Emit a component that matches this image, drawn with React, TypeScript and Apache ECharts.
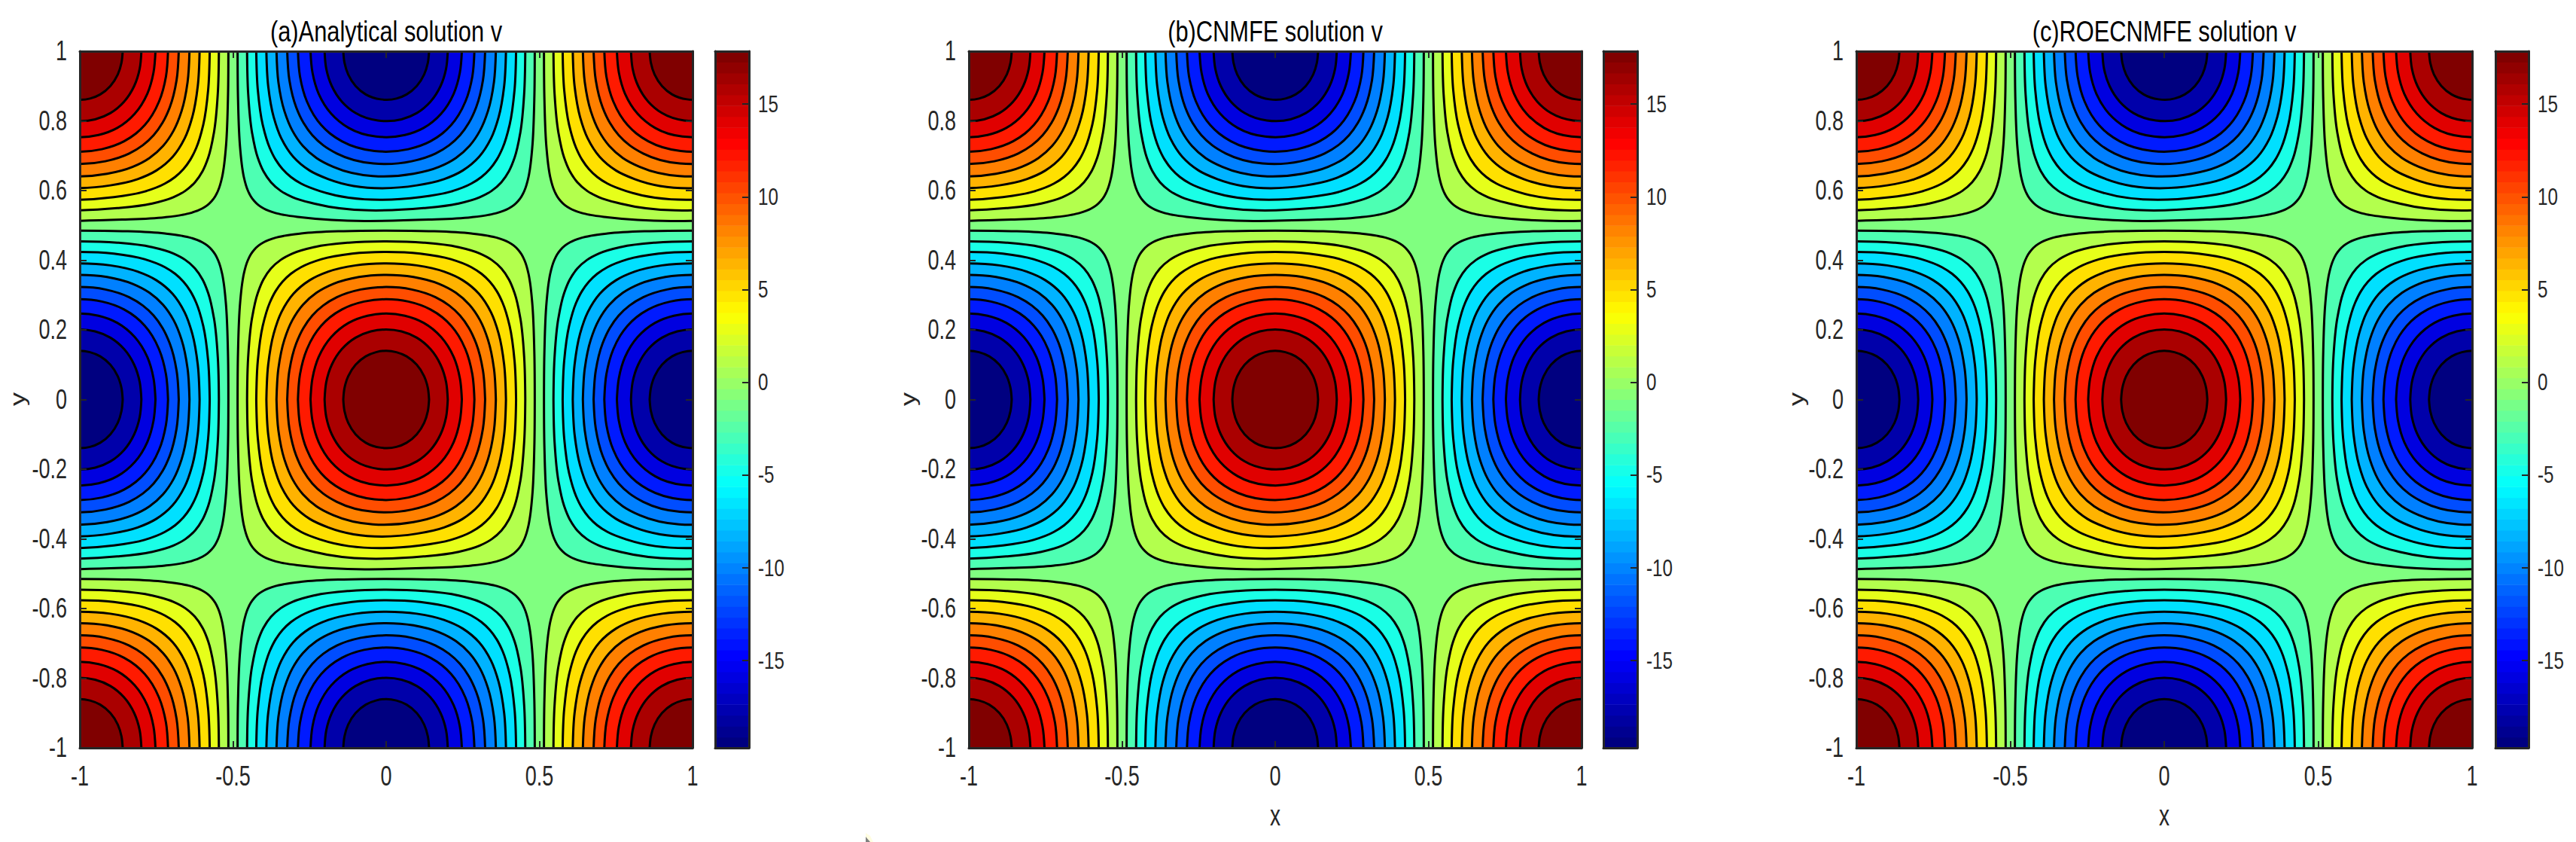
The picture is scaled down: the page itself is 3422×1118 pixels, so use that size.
import React, { useEffect, useRef } from "react";
import * as echarts from "echarts";

const titles = ["(a)Analytical solution v", "(b)CNMFE solution v", "(c)ROECNMFE solution v"];
const xNames = ["", "x", "x"];
const yName = "y";
const xTicks = [-1, -0.5, 0, 0.5, 1];
const yTicks = [-1, -0.8, -0.6, -0.4, -0.2, 0, 0.2, 0.4, 0.6, 0.8, 1];
const colorbarTicks = [-15, -10, -5, 0, 5, 10, 15];
const colorbarMin = -19.7;
const colorbarMax = 17.85;
const colormapSteps = 64;

// Half of one quadrant of every closed contour: offsets (dx, dy) from the
// centre of an extremum cell, from the axis crossing to the diagonal. Outermost contour first.
const contour10 = [[0, 0.485], [0.1389, 0.4835], [0.2778, 0.4767], [0.3333, 0.47], [0.3611, 0.4646], [0.4, 0.4514], [0.4167, 0.4419], [0.4304, 0.4304]];
const contour9 = [[0, 0.454], [0.1222, 0.4504], [0.2333, 0.4379], [0.3056, 0.4192], [0.3444, 0.4008], [0.3761, 0.3761]];
const contour8 = [[0, 0.424], [0.1111, 0.419], [0.2111, 0.403], [0.2778, 0.38], [0.3111, 0.361], [0.3383, 0.3383]];
const contour7 = [[0, 0.391], [0.1, 0.3851], [0.1889, 0.3672], [0.25, 0.3424], [0.3032, 0.3032]];
const contour6 = [[0, 0.358], [0.0889, 0.3518], [0.1722, 0.3321], [0.2278, 0.3063], [0.2719, 0.2719]];
const contour5 = [[0, 0.323], [0.0833, 0.3159], [0.1611, 0.2937], [0.2056, 0.27], [0.2411, 0.2411]];
const contour4 = [[0, 0.288], [0.0722, 0.2813], [0.1444, 0.2587], [0.1833, 0.2363], [0.2121, 0.2121]];
const contour3 = [[0, 0.247], [0.0611, 0.2406], [0.1222, 0.2203], [0.1794, 0.1794]];
const contour2 = [[0, 0.201], [0.05, 0.1956], [0.1, 0.1775], [0.1447, 0.1447]];
const contour1 = [[0, 0.14], [0.0333, 0.136], [0.0667, 0.124], [0.0998, 0.0998]];
const contours = [contour10, contour9, contour8, contour7, contour6, contour5, contour4, contour3, contour2, contour1];

const zeroBandColor = "#80FF80";
const positiveBands = ["#B3FF4D", "#E6FF1A", "#FFE000", "#FFB300", "#FF8000", "#FF4D00", "#FF1A00", "#E00000", "#AA0000", "#800000"];
const negativeBands = ["#4DFFB3", "#1AFFE6", "#00E0FF", "#00B3FF", "#0080FF", "#004DFF", "#001AFF", "#0000E0", "#0000AA", "#000080"];

// Extremum cells: x centre, y centre, sign
const cellX = [0, -1, 1, -1, 1, -1, 1, 0, 0];
const cellY = [0, -1, -1, 1, 1, 0, 0, -1, 1];
const cellSign = [1, 1, 1, 1, 1, -1, -1, -1, -1];

const FONT = '"Liberation Sans", sans-serif';
const INK = "#262626";

const plotBoxes = [
  { left: 106, width: 814 },
  { left: 1287, width: 814 },
  { left: 2466, width: 818 },
];
const barBoxes = [
  { left: 950, width: 45 },
  { left: 2130, width: 45 },
  { left: 3315, width: 44 },
];
const TOP = 68;
const HEIGHT = 925;
const yNameOffset = [82, 80, 79];

function closedLoop(half: number[][]): number[][] {
  const quadrant = [...half, ...half.slice(0, -1).reverse().map(([a, b]) => [b, a])];
  const q2 = quadrant.slice(1).map(([a, b]) => [a, -b]).reverse();
  const right = [...quadrant, ...q2];
  const left = right.slice(1, -1).map(([a, b]) => [-a, b]).reverse();
  return [...right, ...left];
}
const loops = contours.map(closedLoop);

// Closed smooth curve through the given pixel points (chord-length tangents).
function smoothPath(p: number[][]): string {
  const n = p.length;
  const dist = (a: number[], b: number[]) => Math.hypot(a[0] - b[0], a[1] - b[1]) || 1e-6;
  const tangents = p.map((pt, i) => {
    const prev = p[(i + n - 1) % n];
    const next = p[(i + 1) % n];
    const d0 = dist(prev, pt);
    const d1 = dist(pt, next);
    return [0, 1].map((k) => (((pt[k] - prev[k]) / d0) * d1 + ((next[k] - pt[k]) / d1) * d0) / (d0 + d1));
  });
  let d = `M${p[0][0].toFixed(2)} ${p[0][1].toFixed(2)}`;
  for (let i = 0; i < n; i++) {
    const a = p[i];
    const b = p[(i + 1) % n];
    const ta = tangents[i];
    const tb = tangents[(i + 1) % n];
    const h = dist(a, b) / 3;
    d += `C${(a[0] + ta[0] * h).toFixed(2)} ${(a[1] + ta[1] * h).toFixed(2)} ${(b[0] - tb[0] * h).toFixed(2)} ${(b[1] - tb[1] * h).toFixed(2)} ${b[0].toFixed(2)} ${b[1].toFixed(2)}`;
  }
  return d + "Z";
}

function jet(v: number) {
  const c = (x: number) => Math.round(255 * Math.min(1, Math.max(0, x)));
  return `rgb(${c(1.5 - Math.abs(4 * v - 3))},${c(1.5 - Math.abs(4 * v - 2))},${c(1.5 - Math.abs(4 * v - 1))})`;
}

function contourData() {
  const out: number[][] = [];
  cellX.forEach((cx, i) => {
    contours.forEach((_, level) => out.push([cx, cellY[i], cellSign[i], level]));
  });
  return out;
}

function renderContour(_: any, api: any) {
  const cx = api.value(0);
  const cy = api.value(1);
  const sign = api.value(2);
  const level = api.value(3);
  const points = loops[level].map(([dx, dy]) => api.coord([cx + dx, cy + dy]));
  return {
    type: "path",
    shape: { pathData: smoothPath(points) },
    style: { fill: (sign > 0 ? positiveBands : negativeBands)[level], stroke: "#000", lineWidth: 3 },
  };
}

function renderBar(_: any, api: any) {
  const i = api.value(0);
  const step = (colorbarMax - colorbarMin) / colormapSteps;
  const a = api.coord([0, colorbarMin + i * step]);
  const b = api.coord([1, colorbarMin + (i + 1) * step]);
  return {
    type: "rect",
    shape: { x: a[0], y: b[1], width: b[0] - a[0], height: a[1] - b[1] + 0.6 },
    style: { fill: jet(i / (colormapSteps - 1)) },
  };
}

function buildOption() {
  const grid: any[] = [];
  const xAxis: any[] = [];
  const yAxis: any[] = [];
  const series: any[] = [];
  const line = { show: true, onZero: false, lineStyle: { color: INK, width: 3 } };
  const hiddenLabel = { show: false };

  titles.forEach((_, p) => {
    const g = p * 2;
    grid.push({ ...plotBoxes[p], top: TOP, height: HEIGHT, show: true, backgroundColor: zeroBandColor, borderWidth: 0 });
    grid.push({ ...barBoxes[p], top: TOP, height: HEIGHT, show: false });

    const tick = { show: true, inside: true, length: 9, lineStyle: { color: INK, width: 2 } };
    const common = { type: "value", min: -1, max: 1, splitLine: { show: false }, axisLine: line, axisLabel: hiddenLabel, axisTick: tick, z: 5 };
    const xBottom = xAxis.length;
    xAxis.push({ ...common, gridIndex: g, position: "bottom", interval: 0.5 });
    xAxis.push({ ...common, gridIndex: g, position: "top", interval: 0.5 });
    const yLeft = yAxis.length;
    yAxis.push({ ...common, gridIndex: g, position: "left", interval: 0.2 });
    yAxis.push({ ...common, gridIndex: g, position: "right", interval: 0.2 });

    series.push({
      type: "custom", coordinateSystem: "cartesian2d", xAxisIndex: xBottom, yAxisIndex: yLeft,
      clip: true, z: 2, silent: true, renderItem: renderContour, data: contourData(),
    });

    const barX = xAxis.length;
    xAxis.push({ type: "value", min: 0, max: 1, gridIndex: g + 1, position: "bottom", splitLine: { show: false }, axisLine: line, axisTick: { show: false }, axisLabel: hiddenLabel, z: 5 });
    xAxis.push({ type: "value", min: 0, max: 1, gridIndex: g + 1, position: "top", splitLine: { show: false }, axisLine: line, axisTick: { show: false }, axisLabel: hiddenLabel, z: 5 });
    const barY = yAxis.length;
    yAxis.push({
      type: "value", min: colorbarMin, max: colorbarMax, gridIndex: g + 1, position: "right",
      splitLine: { show: false }, axisLine: line, z: 5, axisLabel: hiddenLabel,
      axisTick: { show: true, inside: true, length: 9, customValues: colorbarTicks, lineStyle: { color: INK, width: 2 } },
    });
    yAxis.push({
      type: "value", min: colorbarMin, max: colorbarMax, gridIndex: g + 1, position: "left",
      splitLine: { show: false }, axisLine: line, axisTick: { show: false }, axisLabel: hiddenLabel, z: 5,
    });
    series.push({
      type: "custom", coordinateSystem: "cartesian2d", xAxisIndex: barX, yAxisIndex: barY,
      clip: true, z: 2, silent: true, renderItem: renderBar,
      data: Array.from({ length: colormapSteps }, (_, i) => [i]),
    });
  });

  return { animation: false, backgroundColor: "#fff", grid, xAxis, yAxis, series };
}

// The reference's type is horizontally squeezed, so every text is a scaled graphic text.
function label(text: string, x: number, y: number, fontSize: number, align: string, scaleX: number, color = INK) {
  return {
    type: "text", x, y, scaleX, z: 20, silent: true,
    style: { text, fontFamily: FONT, fontSize, fill: color, textAlign: align, textVerticalAlign: "middle", verticalAlign: "middle" },
  };
}

function buildGraphic(chart: any) {
  const out: any[] = [];
  titles.forEach((title, p) => {
    const box = plotBoxes[p];
    const bar = barBoxes[p];
    out.push(label(title, box.left + box.width / 2, 41, 39, "center", 0.79, "#000"));
    xTicks.forEach((v) => {
      const x = chart.convertToPixel({ xAxisIndex: p * 4 }, v);
      out.push(label(String(v), x, 1031, 36, "center", 0.75));
    });
    yTicks.forEach((v) => {
      const y = chart.convertToPixel({ yAxisIndex: p * 4 }, v);
      out.push(label(String(v), box.left - 17, y, 36, "right", 0.75));
    });
    colorbarTicks.forEach((v) => {
      const y = chart.convertToPixel({ yAxisIndex: p * 4 + 2 }, v);
      out.push(label(String(v), bar.left + bar.width + 12, y, 31, "left", 0.78));
    });
    if (xNames[p]) out.push(label(xNames[p], box.left + box.width / 2, 1083, 38, "center", 0.74));
    out.push({
      type: "text", x: box.left - yNameOffset[p], y: 530, rotation: Math.PI / 2, scaleY: 0.76, z: 20, silent: true,
      style: { text: yName, fontFamily: FONT, fontSize: 36, fill: INK, textAlign: "center", textVerticalAlign: "middle", verticalAlign: "middle" },
    });
  });
  out.push({ type: "polygon", shape: { points: [[1150, 1106], [1156, 1110], [1160, 1118], [1150, 1118]] }, style: { fill: "#FFFDE0" } });
  out.push({ type: "polygon", shape: { points: [[1150, 1111], [1156, 1118], [1150, 1118]] }, style: { fill: "#808080" } });
  return out;
}

export default function App() {
  const ref = useRef<HTMLDivElement>(null);
  useEffect(() => {
    document.body.style.margin = "0";
    const chart = echarts.init(ref.current!, undefined, { renderer: "svg" });
    chart.setOption(buildOption() as any);
    chart.setOption({ graphic: buildGraphic(chart) } as any);
    return () => chart.dispose();
  }, []);
  return <div ref={ref} style={{ width: 3422, height: 1118 }} />;
}
